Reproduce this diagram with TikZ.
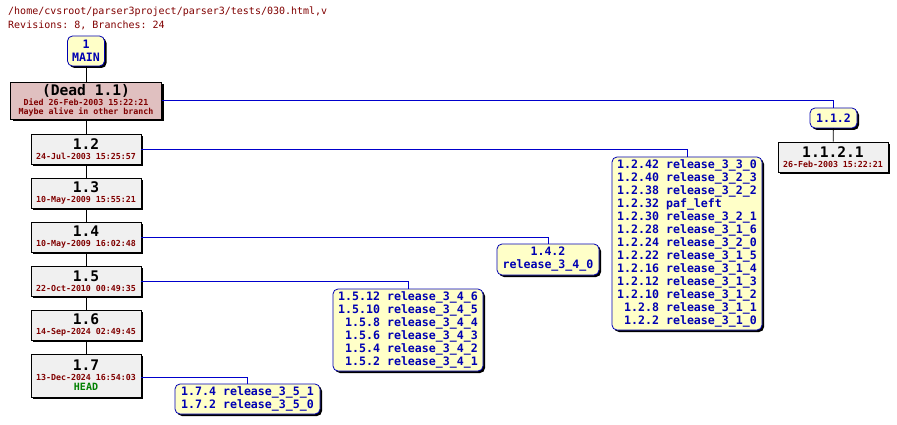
\documentclass[tikz,border=0pt]{standalone}
\usepackage{fontspec}
\setmonofont{DejaVu Sans Mono}
\usetikzlibrary{shadows}
\definecolor{darkred}{HTML}{800000}
\definecolor{revgray}{HTML}{F0F0F0}
\definecolor{deadpink}{HTML}{E0C0C0}
\definecolor{tagyellow}{HTML}{FFFFC8}
\definecolor{headgreen}{HTML}{008000}
\tikzset{
  rev/.style={draw=black, fill=revgray, thick, inner sep=0pt, align=center,
    drop shadow={shadow xshift=2pt, shadow yshift=-2pt, opacity=1, fill=black}},
  tag/.style={draw=blue!70!black, fill=tagyellow, thick, rounded corners=5pt, inner sep=0pt,
    align=right, text=blue!70!black, font=\ttfamily\bfseries\fontsize{11.6}{13}\selectfont,
    drop shadow={shadow xshift=2pt, shadow yshift=-2pt, opacity=1, fill=black}},
  trunk/.style={black, thick},
  branch/.style={blue!80!black, thick},
}
\newcommand{\revnum}[1]{{\fontsize{14.6}{15}\selectfont\bfseries #1}}
\newcommand{\revdate}[1]{{\fontsize{8.3}{8.5}\selectfont\bfseries\color{darkred} #1}}
\begin{document}
\begin{tikzpicture}[x=1pt, y=-1pt, font=\ttfamily]
    \useasboundingbox (0,0) rectangle (897,425);
    %% header
    \node[anchor=west, inner sep=0pt, text=darkred, font=\ttfamily\fontsize{10}{11}\selectfont] at (8,12) {/home/cvsroot/parser3project/parser3/tests/030.html,v};
    \node[anchor=west, inner sep=0pt, text=darkred, font=\ttfamily\fontsize{10}{11}\selectfont] at (8,25) {Revisions: 8, Branches: 24};
    %% trunk
    \node[tag, align=center, minimum width=37pt, minimum height=30pt] (main) at (86,51) {1\\MAIN};
    \node[rev, fill=deadpink, minimum width=151pt, minimum height=37pt] (r11) at (86,100.5)
      {\revnum{(Dead 1.1)}\\[-2pt]\revdate{Died 26-Feb-2003 15:22:21}\\[-3pt]\revdate{Maybe alive in other branch}};
    \node[rev, minimum width=110pt, minimum height=30pt] (r12) at (86,149) {\revnum{1.2}\\[-2pt]\revdate{24-Jul-2003 15:25:57}};
    \node[rev, minimum width=110pt, minimum height=30pt] (r13) at (86,193) {\revnum{1.3}\\[-2pt]\revdate{10-May-2009 15:55:21}};
    \node[rev, minimum width=110pt, minimum height=30pt] (r14) at (86,237) {\revnum{1.4}\\[-2pt]\revdate{10-May-2009 16:02:48}};
    \node[rev, minimum width=110pt, minimum height=30pt] (r15) at (86,281) {\revnum{1.5}\\[-2pt]\revdate{22-Oct-2010 00:49:35}};
    \node[rev, minimum width=110pt, minimum height=30pt] (r16) at (86,325) {\revnum{1.6}\\[-2pt]\revdate{14-Sep-2024 02:49:45}};
    \node[rev, minimum width=110pt, minimum height=43pt] (r17) at (86,375.5)
      {\revnum{1.7}\\[-2pt]\revdate{13-Dec-2024 16:54:03}\\[-2pt]{\fontsize{10}{11}\selectfont\bfseries\color{headgreen}HEAD}};
    \foreach \a/\b in {main/r11, r11/r12, r12/r13, r13/r14, r14/r15, r15/r16, r16/r17}
      \draw[trunk] (\a) -- (\b);
    %% branches
    \node[tag, align=center, minimum width=47pt, minimum height=20pt] (b112) at (833.5,118) {1.1.2};
    \node[rev, minimum width=110pt, minimum height=30pt] (r1121) at (833,157) {\revnum{1.1.2.1}\\[-2pt]\revdate{26-Feb-2003 15:22:21}};
    \node[tag, minimum width=150pt, minimum height=173pt] (b12) at (687,243.5) {1.2.42 release\_3\_3\_0\\1.2.40 release\_3\_2\_3\\1.2.38 release\_3\_2\_2\\1.2.32 paf\_left\phantom{xxxxx}\\1.2.30 release\_3\_2\_1\\1.2.28 release\_3\_1\_6\\1.2.24 release\_3\_2\_0\\1.2.22 release\_3\_1\_5\\1.2.16 release\_3\_1\_4\\1.2.12 release\_3\_1\_3\\1.2.10 release\_3\_1\_2\\1.2.8 release\_3\_1\_1\\1.2.2 release\_3\_1\_0};
    \node[tag, align=center, minimum width=102pt, minimum height=31pt] (b14) at (548,259.5) {1.4.2\\release\_3\_4\_0};
    \node[tag, minimum width=150pt, minimum height=82pt] (b15) at (408,330) {1.5.12 release\_3\_4\_6\\1.5.10 release\_3\_4\_5\\1.5.8 release\_3\_4\_4\\1.5.6 release\_3\_4\_3\\1.5.4 release\_3\_4\_2\\1.5.2 release\_3\_4\_1};
    \node[tag, minimum width=145pt, minimum height=30pt] (b17) at (247.5,399) {1.7.4 release\_3\_5\_1\\1.7.2 release\_3\_5\_0};
    \draw[branch] (r11.east) -| (b112.north);
    \draw[trunk] (b112) -- (r1121);
    \draw[branch] (r12.east) -| (b12.north);
    \draw[branch] (r14.east) -| (b14.north);
    \draw[branch] (r15.east) -| (b15.north);
    \draw[branch] (r17.east |- 0,377) -| (b17.north);
\end{tikzpicture}
\end{document}
